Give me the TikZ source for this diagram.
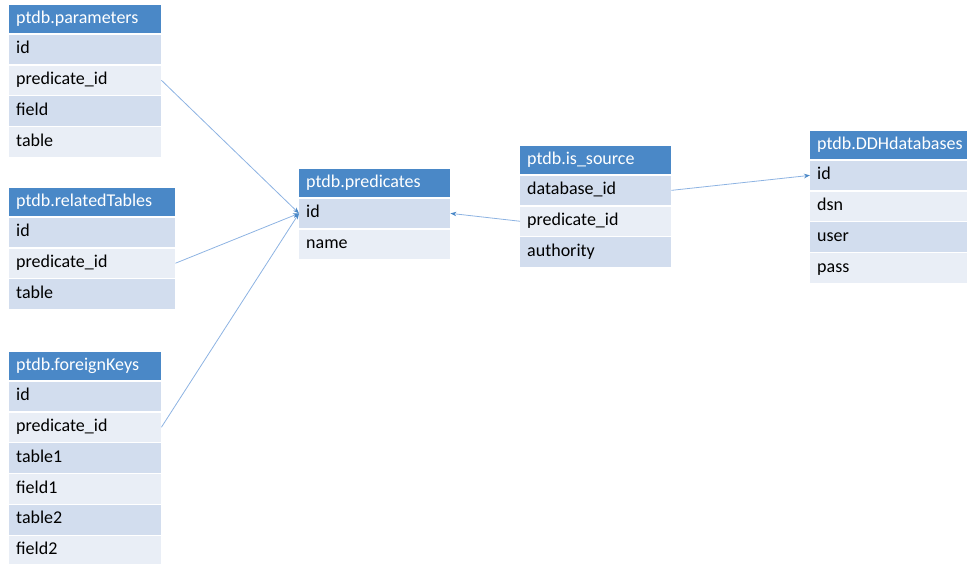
\documentclass[tikz,border=0pt]{standalone}
\usepackage{fontspec}
\setmainfont{Carlito}
\usetikzlibrary{positioning,arrows.meta}
\definecolor{hdrblue}{HTML}{4A88C7}
\definecolor{rowdark}{HTML}{D2DDEE}
\definecolor{rowlight}{HTML}{E9EEF6}
\definecolor{linkblue}{HTML}{8DB3E2}
\begin{document}
\begin{tikzpicture}[x=1pt,y=-1pt,
    cell/.style={anchor=north west, inner xsep=7pt, inner ysep=0pt, text height=12pt, text depth=4pt, align=left, font=\fontsize{18}{20}\selectfont},
    hdr/.style={cell, fill=hdrblue, text=white, minimum height=28pt},
    rowa/.style={cell, fill=rowdark, minimum height=29.5pt, below=1pt of #1},
    rowb/.style={cell, fill=rowlight, minimum height=29.5pt, below=1pt of #1},
    link/.style={linkblue, line width=0.8pt, -{Stealth[length=6pt,width=4.5pt,color=hdrblue]}}]
                \useasboundingbox (0,0) rectangle (967,563);
                \node[hdr, text width=138pt] (par) at (9,5) {ptdb.parameters};
                \node[rowa=par, text width=138pt] (par1) {id};
                \node[rowb=par1, text width=138pt] (par2) {predicate\_id};
                \node[rowa=par2, text width=138pt] (par3) {field};
                \node[rowb=par3, text width=138pt] (par4) {table};
                \node[hdr, text width=152pt] (rel) at (9,188) {ptdb.relatedTables};
                \node[rowa=rel, text width=152pt] (rel1) {id};
                \node[rowb=rel1, text width=152pt] (rel2) {predicate\_id};
                \node[rowa=rel2, text width=152pt] (rel3) {table};
                \node[hdr, text width=138pt] (fk) at (9,352) {ptdb.foreignKeys};
                \node[rowa=fk, text width=138pt] (fk1) {id};
                \node[rowb=fk1, text width=138pt] (fk2) {predicate\_id};
                \node[rowa=fk2, text width=138pt] (fk3) {table1};
                \node[rowb=fk3, text width=138pt] (fk4) {field1};
                \node[rowa=fk4, text width=138pt] (fk5) {table2};
                \node[rowb=fk5, text width=138pt] (fk6) {field2};
                \node[hdr, text width=137pt] (pred) at (299,169) {ptdb.predicates};
                \node[rowa=pred, text width=137pt] (pred1) {id};
                \node[rowb=pred1, text width=137pt] (pred2) {name};
                \node[hdr, text width=137pt] (src) at (520,146) {ptdb.is\_source};
                \node[rowa=src, text width=137pt] (src1) {database\_id};
                \node[rowb=src1, text width=137pt] (src2) {predicate\_id};
                \node[rowa=src2, text width=137pt] (src3) {authority};
                \node[hdr, text width=143pt] (ddh) at (810,131) {ptdb.DDHdatabases};
                \node[rowa=ddh, text width=143pt] (ddh1) {id};
                \node[rowb=ddh1, text width=143pt] (ddh2) {dsn};
                \node[rowa=ddh2, text width=143pt] (ddh3) {user};
                \node[rowb=ddh3, text width=143pt] (ddh4) {pass};
                \draw[link] (par2.east) -- (pred1.west);
                \draw[link] (rel2.east) -- (pred1.west);
                \draw[link] (fk2.east) -- (pred1.west);
                \draw[link] (src2.west) -- (pred1.east);
                \draw[link] (src1.east) -- (ddh1.west);
\end{tikzpicture}
\end{document}
